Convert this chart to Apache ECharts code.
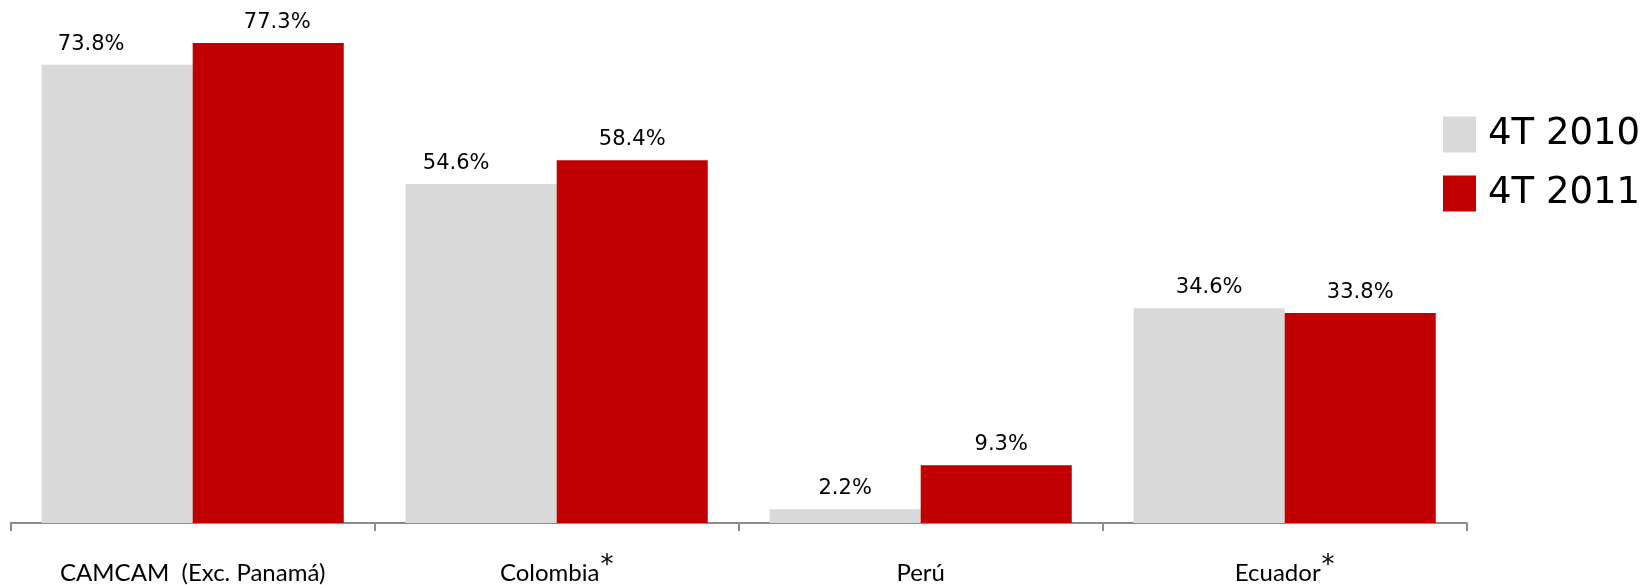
<!DOCTYPE html>
<html>
<head>
<meta charset="utf-8">
<script src="https://cdn.jsdelivr.net/npm/echarts@6/dist/echarts.min.js"></script>
<style>
html,body{margin:0;padding:0;background:#fff;}
#chart{width:1640px;height:585px;}
</style>
</head>
<body>
<div id="chart"></div>
<script>
var categories = ['CAMCAM  (Exc. Panamá)', 'Colombia', 'Perú', 'Ecuador'];
var footnoted = [false, true, false, true];
var seriesNames = ['4T 2010', '4T 2011'];
var values2010 = [73.8, 54.6, 2.2, 34.6];
var values2011 = [77.3, 58.4, 9.3, 33.8];

var grayOffsets = [[-26, 0], [-25, 0], [0, 0], [0, 0]];
var redOffsets = [[9, 0], [0, 0], [5, 0], [0, 0]];

function mkData(vals, offs) {
  return vals.map(function (v, i) {
    return { value: v, label: { offset: offs[i] } };
  });
}

var chart = echarts.init(document.getElementById('chart'));
var labelStyle = {
  show: true,
  position: 'top',
  distance: 10,
  color: '#000',
  fontFamily: 'DejaVu Sans',
  fontSize: 21,
  formatter: function (p) { return p.value.toFixed(1) + '%'; }
};
chart.setOption({
  animation: false,
  backgroundColor: '#fff',
  grid: { left: 10.7, right: 173.3, top: 26.2, bottom: 58 },
  legend: {
    orient: 'vertical',
    left: 1438,
    top: 111,
    icon: 'rect',
    itemWidth: 33,
    itemHeight: 36,
    itemGap: 22,
    textStyle: {
      fontFamily: 'DejaVu Sans',
      fontSize: 37,
      color: '#000',
      padding: [0, 0, 0, 7]
    },
    data: seriesNames
  },
  xAxis: {
    type: 'category',
    data: categories,
    axisLine: { lineStyle: { color: '#8c8c8c', width: 2 } },
    axisTick: { show: true, length: 8, lineStyle: { color: '#8c8c8c', width: 2 } },
    axisLabel: {
      margin: 24,
      interval: 0,
      formatter: function (v, i) {
        return '{m|' + v + '}' + (footnoted[i] ? '{s|*}' : '');
      },
      rich: {
        m: { fontFamily: 'Lato', fontSize: 24, color: '#000', lineHeight: 38, verticalAlign: 'bottom' },
        s: { fontFamily: 'DejaVu Sans', fontSize: 26, color: '#000', lineHeight: 26, verticalAlign: 'top', padding: [6, 0, 0, 1] }
      }
    }
  },
  yAxis: { type: 'value', min: 0, max: 80, show: false, splitLine: { show: false } },
  series: [
    {
      name: seriesNames[0],
      type: 'bar',
      barGap: '0%',
      barCategoryGap: '17%',
      itemStyle: { color: '#d9d9d9' },
      label: labelStyle,
      data: mkData(values2010, grayOffsets)
    },
    {
      name: seriesNames[1],
      type: 'bar',
      barGap: '0%',
      barCategoryGap: '17%',
      itemStyle: { color: '#c00000' },
      label: labelStyle,
      data: mkData(values2011, redOffsets)
    }
  ]
});
</script>
</body>
</html>
